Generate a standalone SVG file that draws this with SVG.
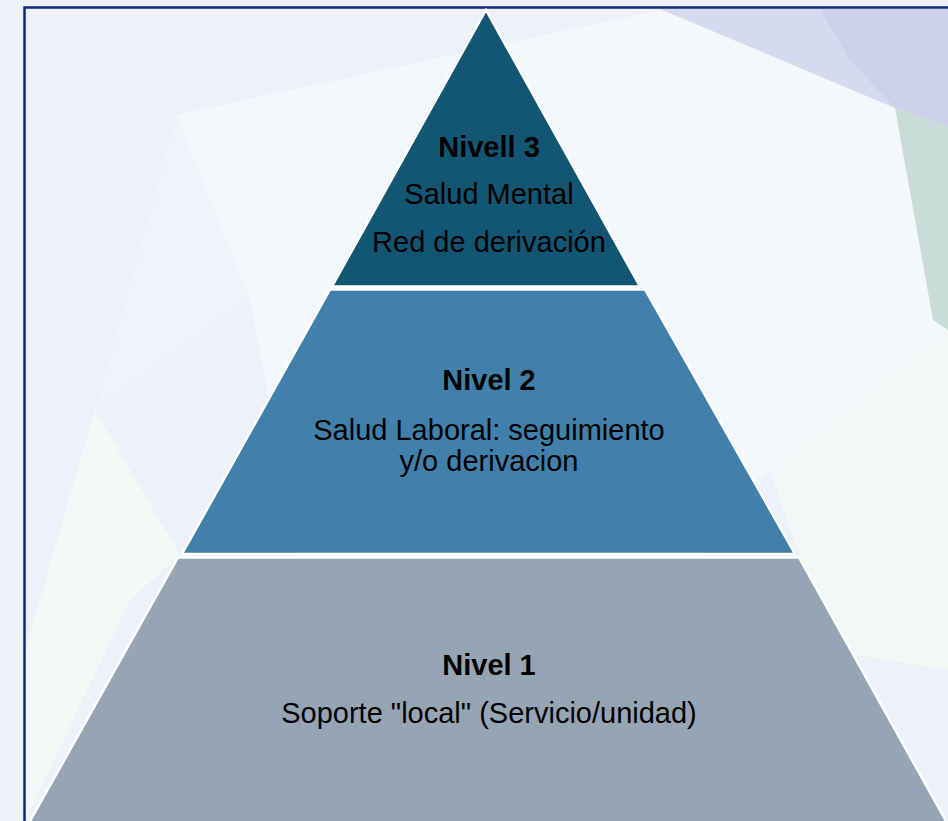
<svg xmlns="http://www.w3.org/2000/svg" width="948" height="821" viewBox="0 0 948 821">
<style>
.lvl{stroke:#ffffff;stroke-width:2.5;stroke-linejoin:miter}
.t{font-family:"Liberation Sans",Arial,sans-serif;font-size:29px;fill:#000;text-anchor:middle}
.b{font-weight:bold}
</style>
<g id="background">
<rect x="0" y="0" width="948" height="821" fill="#eef1f9"/>
<polygon points="176,115 660,10 948,10 948,330 770,470 700,560 300,560 250,300" fill="#f4f7fc"/>
<polygon points="176,115 95,410 250,300" fill="#f0f3f9"/>
<polygon points="95,410 25,650 25,821 130,600 180,555" fill="#f4f8f6"/>
<polygon points="948,330 770,470 800,560 855,655 948,670" fill="#f4f8f5"/>
<polygon points="855,655 948,670 948,821 940,821" fill="#eef0fa"/>
<polygon points="660,9 948,9 948,127 895,108" fill="#d5daee"/>
<polygon points="820,9 948,9 948,127 895,108 850,60" fill="#cacfe9" opacity="0.8"/>
<polygon points="895,108 948,127 948,330 933,320" fill="#c8ddd5"/>
<rect x="24.5" y="7.5" width="1000" height="1000" fill="none" stroke="#0b2a6f" stroke-width="2.5"/>
</g>
<g id="connectors"/>
<g id="level1">
<polygon class="lvl" points="178,557.5 799,557.5 951,830 25,830" fill="#95a5b4"/>
<text class="t b" x="489" y="675">Nivel 1</text>
<text class="t" x="489" y="723">Soporte "local" (Servicio/unidad)</text>
</g>
<g id="level2">
<polygon class="lvl" points="330,289.5 645,289.5 795,554 182,554" fill="#4180aa"/>
<text class="t b" x="489" y="390">Nivel 2</text>
<text class="t" x="489" y="440">Salud Laboral: seguimiento</text>
<text class="t" x="489" y="471">y/o derivacion</text>
</g>
<g id="level3">
<polygon class="lvl" points="486,10 640,286.5 332,286.5" fill="#135673"/>
<text class="t b" x="489" y="157">Nivell 3</text>
<text class="t" x="489" y="204">Salud Mental</text>
<text class="t" x="489" y="252">Red de derivación</text>
</g>
</svg>
